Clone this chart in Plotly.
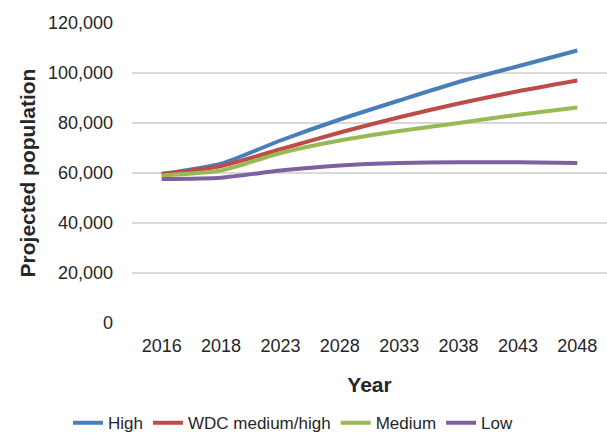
import plotly.graph_objects as go

years = ["2016", "2018", "2023", "2028", "2033", "2038", "2043", "2048"]
high = [59500, 63700, 73000, 81400, 89000, 96400, 102700, 109000]
wdc_med_high = [59700, 62800, 69500, 76200, 82300, 87800, 92700, 97000]
medium = [59000, 61000, 68000, 73000, 76800, 80000, 83300, 86200]
low = [57600, 58100, 61000, 63000, 64000, 64300, 64300, 64000]

series = [
    ("High", high, "#4A7EBB"),
    ("WDC medium/high", wdc_med_high, "#BE4B48"),
    ("Medium", medium, "#98B954"),
    ("Low", low, "#7D60A0"),
]

font_family = "Liberation Sans, Arial, sans-serif"
text_color = "#262626"

fig = go.Figure()
for name, vals, color in series:
    fig.add_trace(go.Scatter(
        x=years, y=vals, name=name, mode="lines",
        line=dict(color=color, width=4, shape="spline", smoothing=0.6),
    ))

fig.update_layout(
    width=607, height=434,
    margin=dict(l=132, r=0, t=23, b=111, autoexpand=False),
    paper_bgcolor="white", plot_bgcolor="white",
    font=dict(family=font_family, size=18, color=text_color),
    showlegend=True,
    legend=dict(
        orientation="h", x=0.34, xanchor="center", y=-0.274, yanchor="top",
        font=dict(size=17, color=text_color),
        itemwidth=30, tracegroupgap=0,
    ),
    xaxis=dict(
        type="category", range=[-0.5, 7.5],
        showgrid=False, zeroline=False, showline=False, ticks="",
        automargin=False, ticklabelstandoff=10,
        tickfont=dict(size=18),
        title=dict(text="<b>Year</b>", font=dict(size=21), standoff=22),
    ),
    yaxis=dict(
        range=[0, 120000], dtick=20000, tickformat=",d",
        showgrid=True, gridcolor="#D9D9D9", gridwidth=1.5,
        zeroline=False, showline=False, ticks="",
        automargin=False, ticklabelstandoff=18,
        tickfont=dict(size=18),
        title=dict(text="<b>Projected population</b>", font=dict(size=21), standoff=6),
    ),
)

fig.write_html("out.html")
